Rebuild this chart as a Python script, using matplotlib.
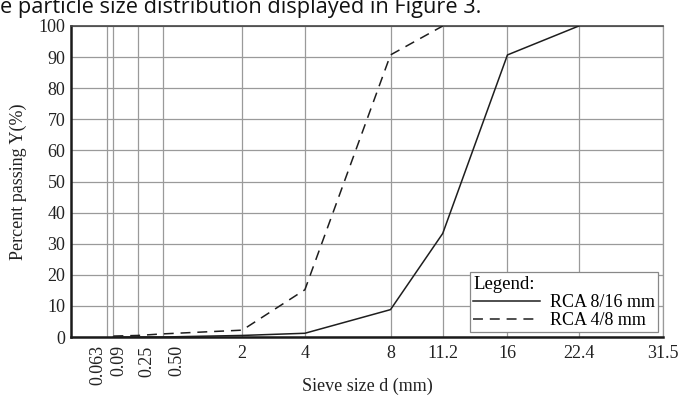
import numpy as np
import matplotlib
matplotlib.use("Agg")
import matplotlib.pyplot as plt
import matplotlib.transforms as mtransforms

# Data
sieves = [0.063, 0.09, 0.25, 0.50, 2, 4, 8, 11.2, 16, 22.4, 31.5]
sieve_labels = ["0.063", "0.09", "0.25", "0.50", "2", "4", "8", "11.2", "16", "22.4", "31.5"]
rca816_d = [0.09, 0.25, 0.50, 2, 4, 8, 11.2, 16, 22.4]
rca816_y = [0.0, 0.0, 0.0, 0.5, 1.2, 8.8, 33.3, 90.7, 100.0]
rca48_d = [0.09, 0.25, 0.50, 2, 4, 8, 11.2]
rca48_y = [0.3, 0.5, 1.0, 2.2, 15.2, 90.7, 100.0]
yticks = list(range(0, 101, 10))

plt.rcParams['font.family'] = ['Liberation Serif', 'DejaVu Serif']

fig = plt.figure(figsize=(6.78, 4.01), dpi=100)
ax = fig.add_axes([71/678, 1 - 337/401, (663 - 71)/678, (337 - 26)/401])

p = 0.45
ax.set_xscale('function', functions=(lambda x: np.power(np.clip(x, 0, None), p),
                                     lambda x: np.power(np.clip(x, 0, None), 1/p)))
ax.set_xlim(0, 31.5)
ax.set_ylim(0, 100)

lc = '#1e1e1e'
ax.plot(rca816_d, rca816_y, color=lc, lw=1.1, label='RCA 8/16 mm', zorder=3)
ax.plot(rca48_d, rca48_y, color=lc, lw=1.1, dashes=(6.5, 4.5), label='RCA 4/8 mm', zorder=3)

ax.set_xticks(sieves)
ax.set_xticklabels(sieve_labels)
ax.tick_params(axis='both', length=0, labelsize=13, colors='#222222', pad=4)
ax.tick_params(axis='x', pad=6)
# small horizontal offsets (pixels) so the crowded rotated labels sit apart
shifts_px = {0.063: -9, 0.09: 5, 0.25: 9, 0.50: 14}
for lab, s in zip(ax.get_xticklabels(), sieves):
    if s < 1:
        lab.set_rotation(90)
        off = mtransforms.ScaledTranslation(shifts_px[s] / 100.0, 0, fig.dpi_scale_trans)
        lab.set_transform(lab.get_transform() + off)
ax.set_yticks(yticks)

ax.grid(True, color='#9a9a9a', lw=0.9, zorder=1)
ax.set_axisbelow(True)
for side in ['left', 'bottom']:
    ax.spines[side].set_linewidth(1.8)
    ax.spines[side].set_color('#1a1a1a')
ax.spines['top'].set_linewidth(1.2)
ax.spines['top'].set_color('#444444')
ax.spines['right'].set_linewidth(0.9)
ax.spines['right'].set_color('#9a9a9a')

ax.set_ylabel('Percent passing Y(%)', fontsize=13, color='#222222', labelpad=8)
ax.set_xlabel('Sieve size d (mm)', fontsize=13, color='#222222', va='center')
ax.xaxis.set_label_coords(0.5, -0.158)

leg = ax.legend(title='Legend:', loc='lower right', fontsize=13, title_fontsize=13.5,
                frameon=True, fancybox=False, edgecolor='#888888', framealpha=1,
                handlelength=3.7, borderaxespad=0.25, borderpad=0.2,
                labelspacing=0.05, handletextpad=0.55, alignment='left')
leg.get_frame().set_linewidth(0.9)

fig.text(0.0, 1.0 + 0.008, 'e particle size distribution displayed in Figure 3.',
         fontsize=15.7, family=['Open Sans', 'DejaVu Sans'], va='top', ha='left', color='#111111')

fig.savefig('out.png', dpi=100)
